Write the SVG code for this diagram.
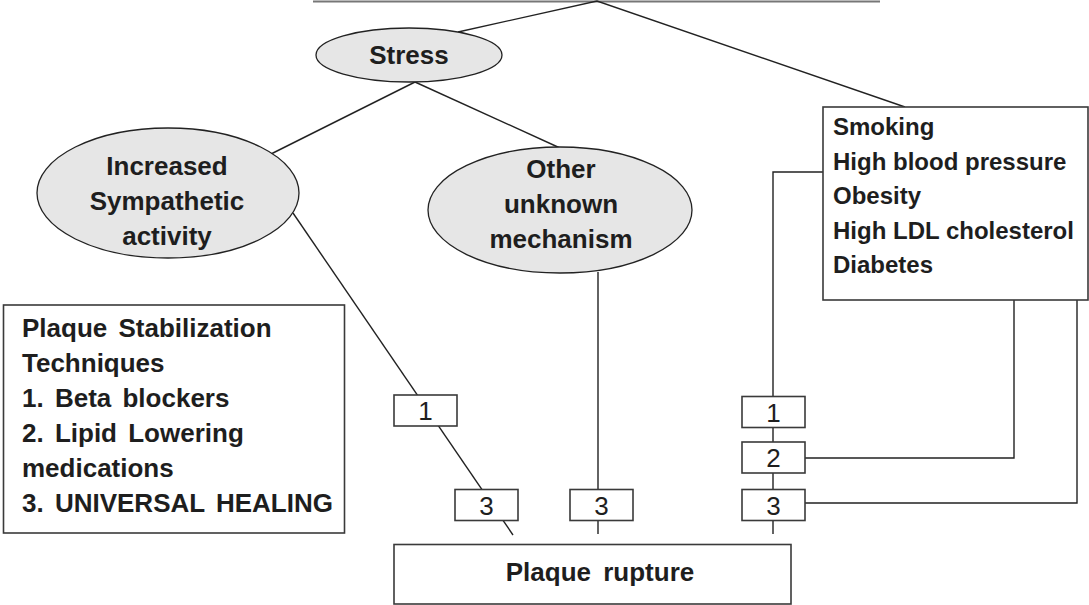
<svg xmlns="http://www.w3.org/2000/svg" width="1089" height="605" viewBox="0 0 1089 605">
<style>
.ell{fill:#e6e6e6;stroke:#222;stroke-width:1.3}
.box{fill:#fff;stroke:#3a3a3a;stroke-width:1.6}
.conn{fill:none;stroke:#222;stroke-width:1.4}
.t{font-family:"Liberation Sans",Arial,Helvetica,sans-serif;font-weight:bold;font-size:26px;fill:#1e1e1e}
.c{text-anchor:middle}
.r{font-size:24px}
.n{font-family:"Liberation Sans",Arial,Helvetica,sans-serif;font-weight:normal;font-size:26px;fill:#1e1e1e;text-anchor:middle}
</style>
<rect width="1089" height="605" fill="#fff"/>
<g id="connectors">
<line x1="313" y1="1.5" x2="880" y2="1.5" stroke="#777" stroke-width="2"/>
<polyline class="conn" points="458,32 597,1 905,107"/>
<line class="conn" x1="415" y1="82" x2="271" y2="154"/>
<line class="conn" x1="415" y1="82" x2="560" y2="148"/>
<line class="conn" x1="293" y1="213" x2="513" y2="535"/>
<line class="conn" x1="598" y1="272" x2="598" y2="534"/>
<polyline class="conn" points="823,172 773,172 773,534"/>
<polyline class="conn" points="1014,300 1014,458 805,458"/>
<polyline class="conn" points="1077,300 1077,503 805,503"/>
</g>
<g id="stress">
<ellipse class="ell" cx="409" cy="55" rx="93" ry="27"/>
<text class="t c" x="409" y="64">Stress</text>
</g>
<g id="increased">
<ellipse class="ell" cx="168" cy="193" rx="131" ry="65"/>
<text class="t c" x="167" y="175">Increased</text>
<text class="t c" x="167" y="210">Sympathetic</text>
<text class="t c" x="167" y="245">activity</text>
</g>
<g id="other">
<ellipse class="ell" cx="560" cy="210" rx="132" ry="63"/>
<text class="t c" x="561" y="178">Other</text>
<text class="t c" x="561" y="213">unknown</text>
<text class="t c" x="561" y="248">mechanism</text>
</g>
<g id="risk-factors">
<rect class="box" x="823" y="107" width="265" height="193"/>
<text class="t r" x="833" y="135">Smoking</text>
<text class="t r" x="833" y="169.5">High blood pressure</text>
<text class="t r" x="833" y="204">Obesity</text>
<text class="t r" x="833" y="238.5">High LDL cholesterol</text>
<text class="t r" x="833" y="273">Diabetes</text>
</g>
<g id="techniques">
<rect class="box" x="3.5" y="305" width="341" height="228"/>
<g class="t" word-spacing="4">
<text x="22" y="337">Plaque Stabilization</text>
<text x="22" y="372">Techniques</text>
<text x="22" y="407">1. Beta blockers</text>
<text x="22" y="442">2. Lipid Lowering</text>
<text x="22" y="477">medications</text>
<text x="22" y="512">3. UNIVERSAL HEALING</text>
</g>
</g>
<g id="box-left-1">
<rect class="box" x="394" y="395" width="63" height="31"/>
<text class="n" x="425.5" y="420">1</text>
</g>
<g id="box-left-3">
<rect class="box" x="455" y="489.5" width="63" height="31"/>
<text class="n" x="486.5" y="514.5">3</text>
</g>
<g id="box-mid-3">
<rect class="box" x="570" y="489.5" width="63" height="31"/>
<text class="n" x="601.5" y="514.5">3</text>
</g>
<g id="box-right-1">
<rect class="box" x="742" y="396.5" width="63" height="31"/>
<text class="n" x="773.5" y="421.5">1</text>
</g>
<g id="box-right-2">
<rect class="box" x="742" y="442" width="63" height="31"/>
<text class="n" x="773.5" y="467">2</text>
</g>
<g id="box-right-3">
<rect class="box" x="742" y="489.5" width="63" height="31"/>
<text class="n" x="773.5" y="514.5">3</text>
</g>
<g id="plaque-rupture">
<rect class="box" x="394" y="544.5" width="397" height="59.5"/>
<text class="t c" x="600" y="581" word-spacing="5">Plaque rupture</text>
</g>
</svg>
